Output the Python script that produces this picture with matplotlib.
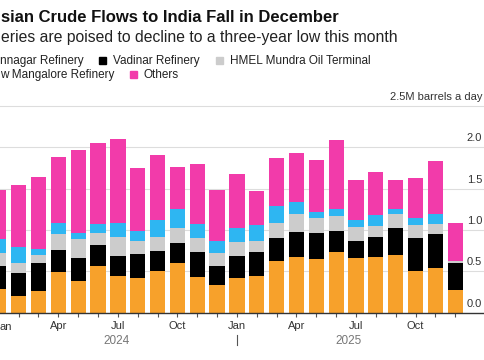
import numpy as np
import matplotlib
matplotlib.use('Agg')
import matplotlib.pyplot as plt
from matplotlib.patches import Rectangle
from matplotlib.transforms import blended_transform_factory

plt.rcParams['font.family'] = ['Liberation Sans', 'DejaVu Sans']

# monthly flows, million barrels a day, Jan 2024 - Dec 2025
months = ['Jan', 'Feb', 'Mar', 'Apr', 'May', 'Jun',
          'Jul', 'Aug', 'Sep', 'Oct', 'Nov', 'Dec'] * 2
years = ['2024', '2025']
jamnagar = [0.29, 0.20, 0.26, 0.49, 0.38, 0.56, 0.44, 0.42, 0.50, 0.60, 0.43, 0.33,
            0.42, 0.44, 0.62, 0.67, 0.65, 0.74, 0.66, 0.67, 0.70, 0.50, 0.54, 0.28]
vadinar = [0.27, 0.28, 0.34, 0.27, 0.28, 0.26, 0.24, 0.29, 0.25, 0.24, 0.31, 0.24,
           0.26, 0.30, 0.28, 0.31, 0.31, 0.25, 0.21, 0.24, 0.32, 0.40, 0.41, 0.32]
hmel = [0.16, 0.12, 0.10, 0.19, 0.23, 0.14, 0.23, 0.16, 0.17, 0.18, 0.16, 0.15,
        0.18, 0.13, 0.18, 0.21, 0.19, 0.18, 0.17, 0.14, 0.17, 0.16, 0.12, 0.03]
mangalore = [0.17, 0.19, 0.07, 0.13, 0.07, 0.11, 0.18, 0.12, 0.20, 0.24, 0.17, 0.15,
             0.16, 0.19, 0.21, 0.15, 0.07, 0.08, 0.08, 0.13, 0.06, 0.09, 0.12, 0.00]
others = [0.60, 0.75, 0.87, 0.80, 1.01, 0.98, 1.01, 0.76, 0.79, 0.50, 0.73, 0.61,
          0.66, 0.41, 0.58, 0.59, 0.63, 0.84, 0.48, 0.52, 0.36, 0.48, 0.65, 0.46]

# the reference image is cropped on the left, so only the visible part of
# some texts is kept
series = [('nnagar Refinery', jamnagar, '#F7A12B'),
          ('Vadinar Refinery', vadinar, '#000000'),
          ('HMEL Mundra Oil Terminal', hmel, '#CCCCCC'),
          ('w Mangalore Refinery', mangalore, '#2EB6F2'),
          ('Others', others, '#F23BAA')]

yticks = [0.0, 0.5, 1.0, 1.5, 2.0]

W, H = 485, 360
fig = plt.figure(figsize=(W / 100, H / 100), dpi=100)


def fx(px):
    return px / W


def fy(py):
    return 1 - py / H


# chart area
ax = fig.add_axes([0, fy(312.7), 1, (312.7 - 106) / H])
x = np.arange(len(months))
bottom = np.zeros(len(months))
for name, vals, col in series:
    ax.bar(x, vals, width=0.77, bottom=bottom, color=col, zorder=3)
    bottom += np.array(vals)

ax.set_xlim(0.06, 24.5)
ax.set_ylim(0, 2.5)
for v in [0.5, 1.0, 1.5, 2.0, 2.5]:
    ax.axhline(v, color='#DDDDDD', lw=0.8, zorder=1, clip_on=False)

for s in ['top', 'left', 'right']:
    ax.spines[s].set_visible(False)
ax.spines['bottom'].set_color('#333333')
ax.spines['bottom'].set_linewidth(1.0)
ax.spines['bottom'].set_zorder(4)

ax.set_yticks([])
ax.set_xticks(x[1:])
ax.set_xticklabels([m if (i + 1) % 3 == 0 else '' for i, m in enumerate(months[1:])])
ax.tick_params(axis='x', length=3, width=0.8, color='#555555', pad=3,
               labelsize=8, labelcolor='#333333')
# first "Jan" sits on the cropped edge
ax.text(0.0, -0.045, 'an', transform=ax.transAxes, ha='left', va='top',
        fontsize=8, color='#333333')

ytrans = blended_transform_factory(ax.transAxes, ax.transData)
for v in yticks:
    ax.text(0.994, v + 0.073, f'{v:.1f}', transform=ytrans, ha='right',
            va='baseline', fontsize=8, color='#333333')
ax.text(0.994, 2.5 + 0.073, '2.5M barrels a day', transform=ytrans, ha='right',
        va='baseline', fontsize=8, color='#333333')

xtrans = ax.get_xaxis_transform()
for i, yr in enumerate(years):
    ax.text(5.95 + 11.65 * i, -0.137, yr, transform=xtrans, ha='center',
            va='center', fontsize=8.5, color='#777777')
ax.plot([12, 12], [-0.108, -0.156], transform=xtrans, clip_on=False,
        color='#555555', lw=0.8)

# title block
fig.text(fx(1), fy(22), 'sian Crude Flows to India Fall in December',
         ha='left', va='baseline', fontsize=12, fontweight='bold', color='#111111')
fig.text(fx(1), fy(42), 'eries are poised to decline to a three-year low this month',
         ha='left', va='baseline', fontsize=11.3, color='#222222')


def legend_item(xpos, ybase, label, color, square=True):
    fig.text(fx(xpos), fy(ybase), label, ha='left', va='baseline',
             fontsize=8.5, color='#222222')
    if square:
        fig.add_artist(Rectangle((fx(xpos - 14), fy(ybase)), 7 / W, 7 / H,
                                 transform=fig.transFigure, color=color))


legend_item(0.5, 64, series[0][0], series[0][2], square=False)
legend_item(113, 64, series[1][0], series[1][2])
legend_item(230, 64, series[2][0], series[2][2])
legend_item(0.5, 78, series[3][0], series[3][2], square=False)
legend_item(144, 78, series[4][0], series[4][2])

fig.savefig('out.png', dpi=100)
